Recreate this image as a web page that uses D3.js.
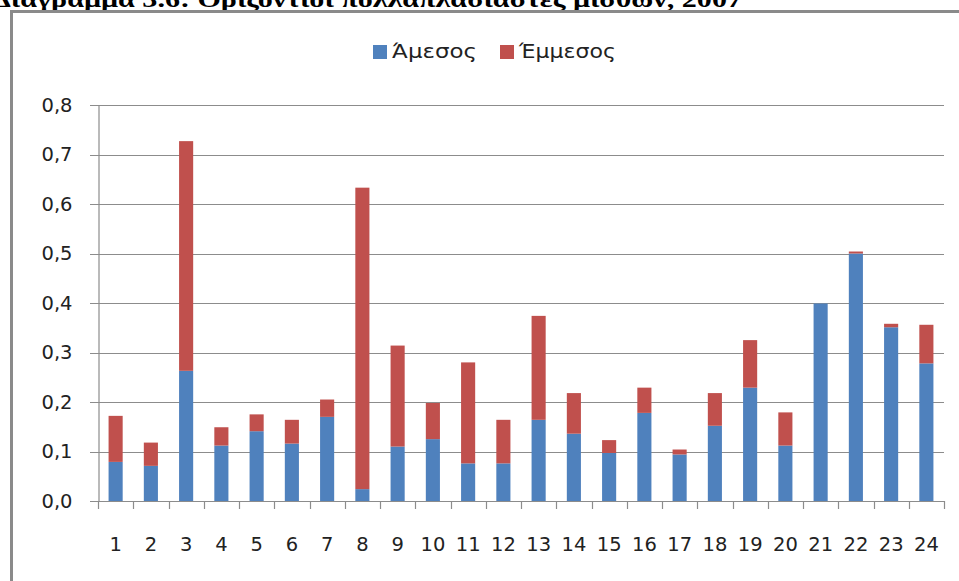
<!DOCTYPE html>
<html><head><meta charset="utf-8">
<script src="https://cdn.jsdelivr.net/npm/d3@7"></script>
<style>body{margin:0;background:#fff}svg{display:block}</style>
</head><body>
<svg id="c" width="959" height="581"></svg>
<script>
const categories = ["1","2","3","4","5","6","7","8","9","10","11","12","13","14","15","16","17","18","19","20","21","22","23","24"];
const direct   = [0.079,0.071,0.263,0.112,0.141,0.116,0.170,0.024,0.110,0.125,0.076,0.076,0.164,0.136,0.097,0.178,0.094,0.152,0.229,0.112,0.399,0.500,0.351,0.278];
const indirect = [0.093,0.047,0.464,0.037,0.034,0.048,0.035,0.609,0.204,0.073,0.204,0.088,0.210,0.082,0.026,0.051,0.010,0.066,0.096,0.067,0.000,0.004,0.007,0.078];
const seriesNames = ["Άμεσος","Έμμεσος"];
const yTicks = [0,0.1,0.2,0.3,0.4,0.5,0.6,0.7,0.8];
const colors = ["#4F81BD","#C0504D"];

const svg = d3.select("#c");
const font = "'DejaVu Sans', sans-serif";

// caption (cut off at top, as in the source)
svg.append("text").attr("x",-8).attr("y",7)
  .attr("font-family","'Liberation Serif', serif").attr("font-weight","bold")
  .attr("font-size",24).attr("fill","#000")
  .attr("textLength",750).attr("lengthAdjust","spacingAndGlyphs")
  .text("Διάγραμμα 3.6: Οριζόντιοι πολλαπλασιαστές μισθών, 2007");

// chart frame
svg.append("rect").attr("x",11.5).attr("y",11.5).attr("width",1000).attr("height",700)
  .attr("fill","#fff").attr("stroke","#8a8a8a").attr("stroke-width",3);

const xb = d3.scaleBand().domain(categories).range([98,944]);
const y = d3.scaleLinear().domain([0,0.8]).range([501,105]);

// gridlines
svg.append("g").selectAll("line").data(yTicks).join("line")
  .attr("x1",90).attr("x2",944).attr("y1",d=>Math.round(y(d))+0.5).attr("y2",d=>Math.round(y(d))+0.5)
  .attr("stroke","#8c8c8c").attr("stroke-width",1.2);

// y axis
const ya = svg.append("g").attr("transform","translate(98.5,0)")
  .call(d3.axisLeft(y).tickValues(yTicks).tickSize(0).tickPadding(26).tickFormat(d=>d3.format(".1f")(d).replace(".",",")));
ya.select(".domain").attr("stroke","#8c8c8c").attr("stroke-width",1.2);
ya.selectAll("text").attr("font-family",font).attr("font-size",19.5).attr("fill","#222");

// x axis ticks at category boundaries
const bounds = categories.map(c=>xb(c)).concat([944]);
svg.append("g").selectAll("line").data(bounds).join("line")
  .attr("x1",d=>Math.round(d)+0.5).attr("x2",d=>Math.round(d)+0.5).attr("y1",501).attr("y2",509)
  .attr("stroke","#8c8c8c").attr("stroke-width",1.2);
const xa = svg.append("g").attr("transform","translate(0,501)")
  .call(d3.axisBottom(xb).tickSize(0).tickPadding(36));
xa.select(".domain").remove();
xa.selectAll("text").attr("font-family",font).attr("font-size",19.5).attr("fill","#222");

// stacked bars
const data = categories.map((c,i)=>({cat:c, "Άμεσος":direct[i], "Έμμεσος":indirect[i]}));
const stack = d3.stack().keys(seriesNames)(data);
svg.append("g").selectAll("g").data(stack).join("g").attr("fill",(d,i)=>colors[i])
  .selectAll("rect").data(d=>d).join("rect")
  .attr("x",d=>xb(d.data.cat)+xb.bandwidth()*0.3)
  .attr("width",xb.bandwidth()*0.4)
  .attr("y",d=>y(d[1])).attr("height",d=>y(d[0])-y(d[1]));

// legend
const leg = [{n:seriesNames[0],c:colors[0],x:373,w:85},{n:seriesNames[1],c:colors[1],x:500,w:97}];
const lg = svg.append("g");
lg.selectAll("rect").data(leg).join("rect").attr("x",d=>d.x).attr("y",45).attr("width",14).attr("height",14).attr("fill",d=>d.c);
lg.selectAll("text").data(leg).join("text").attr("x",d=>d.x+19).attr("y",58)
  .attr("font-family",font).attr("font-size",19).attr("fill","#222")
  .attr("textLength",d=>d.w).attr("lengthAdjust","spacingAndGlyphs").text(d=>d.n);
</script>
</body></html>
